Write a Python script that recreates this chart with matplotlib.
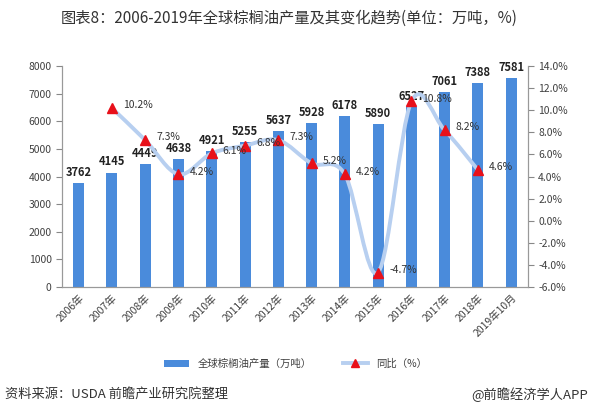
import numpy as np
import matplotlib
matplotlib.use('Agg')
import matplotlib.pyplot as plt
from matplotlib.path import Path
from matplotlib.patches import PathPatch, Patch
from matplotlib.lines import Line2D
from matplotlib.ticker import FuncFormatter

plt.rcParams['font.family'] = ['Noto Sans CJK SC', 'DejaVu Sans']

years = ['2006年', '2007年', '2008年', '2009年', '2010年', '2011年', '2012年',
         '2013年', '2014年', '2015年', '2016年', '2017年', '2018年', '2019年10月']
output = [3762, 4145, 4449, 4638, 4921, 5255, 5637, 5928, 6178, 5890, 6527, 7061, 7388, 7581]
# yoy growth (%), no value for first and last category
growth = [np.nan, 10.2, 7.3, 4.2, 6.1, 6.8, 7.3, 5.2, 4.2, -4.7, 10.8, 8.2, 4.6, np.nan]

bar_color = '#4a8bdb'
line_color = '#b7cff0'
text_color = '#404040'

fig = plt.figure(figsize=(5.91, 4.11), dpi=100)
ax = fig.add_axes([0.105, 0.302, 0.788, 0.537])
ax2 = ax.twinx()

x = np.arange(len(years))
ax.bar(x, output, width=0.33, color=bar_color, zorder=2)
for xi, v in zip(x, output):
    ax.annotate(str(v), (xi, v), xytext=(0, 3), textcoords='offset points',
                ha='center', va='bottom', fontsize=8, fontweight='bold', color='#222222')

ax.set_xlim(-0.5, len(years) - 0.5)
ax.set_ylim(0, 8000)
ax.set_yticks(range(0, 8001, 1000))
ax.set_xticks(x)
ax.set_xticklabels(years, rotation=45, ha='right', rotation_mode='anchor', fontsize=7.5, color=text_color)
ax.tick_params(axis='y', labelsize=7.5, labelcolor=text_color, length=4, color='#888888')
ax.tick_params(axis='x', length=0, pad=4)

# smooth line through growth points (bezier segments, catmull-rom style)
gx = x[~np.isnan(growth)].astype(float)
gy = np.array(growth)[~np.isnan(growth)]
verts = [(gx[0], gy[0])]
codes = [Path.MOVETO]
n = len(gx)
for i in range(n - 1):
    p0 = (gx[max(i - 1, 0)], gy[max(i - 1, 0)])
    p1 = (gx[i], gy[i])
    p2 = (gx[i + 1], gy[i + 1])
    p3 = (gx[min(i + 2, n - 1)], gy[min(i + 2, n - 1)])
    c1 = (p1[0] + (p2[0] - p0[0]) / 6, p1[1] + (p2[1] - p0[1]) / 6)
    c2 = (p2[0] - (p3[0] - p1[0]) / 6, p2[1] - (p3[1] - p1[1]) / 6)
    verts += [c1, c2, p2]
    codes += [Path.CURVE4] * 3
ax2.add_patch(PathPatch(Path(verts, codes), facecolor='none', edgecolor=line_color,
                        linewidth=2.8, capstyle='round', zorder=3))
ax2.plot(gx, gy, linestyle='none', marker='^', markersize=7, color='#e8101a', zorder=4)
for xi, v in zip(gx, gy):
    ax2.annotate('%.1f%%' % v, (xi, v), xytext=(8, 2), textcoords='offset points',
                 ha='left', va='center', fontsize=7.5, color='#333333', zorder=5)

ax2.set_ylim(-6, 14)
ax2.set_yticks(range(-6, 15, 2))
ax2.yaxis.set_major_formatter(FuncFormatter(lambda v, p: '%.1f%%' % v))
ax2.tick_params(axis='y', labelsize=7.5, labelcolor=text_color, length=4, color='#888888')

for a in (ax, ax2):
    a.spines['top'].set_visible(False)
    for s in ('left', 'right', 'bottom'):
        a.spines[s].set_color('#999999')
        a.spines[s].set_linewidth(0.8)

handles = [Patch(facecolor=bar_color, edgecolor='none'),
           Line2D([0], [0], color=line_color, linewidth=2.8, marker='^',
                  markerfacecolor='#e8101a', markeredgecolor='#e8101a', markersize=6)]
fig.legend(handles, ['全球棕榈油产量（万吨）', '同比（%）'], loc='center',
           bbox_to_anchor=(0.5, 0.115), ncol=2, frameon=False, fontsize=7.5,
           handlelength=2.4, columnspacing=3, labelcolor=text_color)

fig.text(0.49, 0.955, '图表8：2006-2019年全球棕榈油产量及其变化趋势(单位：万吨，%)',
         ha='center', va='center', fontsize=11, color='#333333')
fig.text(0.008, 0.04, '资料来源：USDA 前瞻产业研究院整理', ha='left', va='center',
         fontsize=9.5, color='#333333')
fig.text(0.995, 0.04, '@前瞻经济学人APP', ha='right', va='center',
         fontsize=9.5, color='#333333')

fig.savefig('out.png', dpi=100)
